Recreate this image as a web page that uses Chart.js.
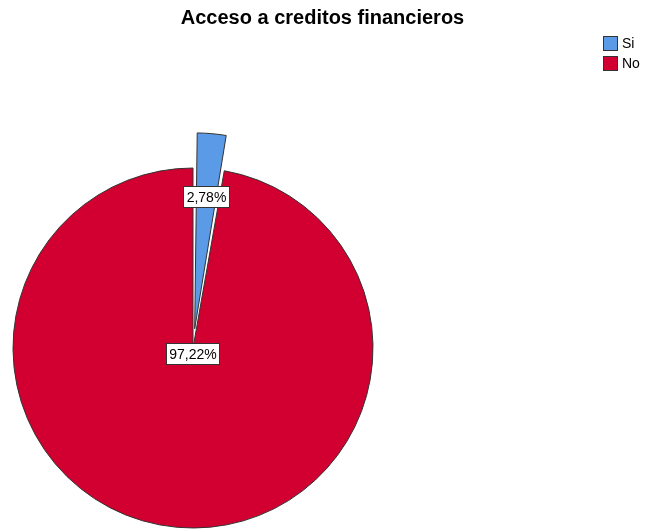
<!DOCTYPE html>
<html lang="es">
<head>
    <meta charset="UTF-8">
    <meta name="viewport" content="width=device-width, initial-scale=1.0">
    <title>Acceso a creditos financieros</title>
    <style>
        html, body { margin: 0; padding: 0; background: #fff; }
        #contenedor { position: relative; width: 645px; height: 529px; }
    </style>
</head>
<body>
    <div id="contenedor"><canvas id="grafico"></canvas></div>

    <script src="https://cdn.jsdelivr.net/npm/chart.js@4.4.0/dist/chart.umd.min.js"></script>
    <script>
        // Datos del gráfico
        const categorias = ['Si', 'No'];
        const porcentajes = [2.78, 97.22];
        const colores = ['#5a9ae6', '#d10030'];

        const fuente = '"Liberation Sans", Arial, sans-serif';

        // coma decimal como en el original
        function formato(v) {
            return v.toFixed(2).replace('.', ',') + '%';
        }

        // Espacio vacío a la derecha para que la torta quede a la izquierda
        const espacio = {
            id: 'espacio',
            beforeInit(chart, args, opts) {
                Chart.layouts.addBox(chart, {
                    position: 'right',
                    weight: 0,
                    fullSize: false,
                    options: {},
                    isHorizontal() { return false; },
                    update(maxWidth, maxHeight) {
                        this.width = opts.ancho;
                        this.height = maxHeight;
                    },
                    draw() {}
                });
            }
        };

        // Etiquetas con recuadro blanco sobre cada porción
        const etiquetas = {
            id: 'etiquetas',
            afterDatasetsDraw(chart, args, opts) {
                const ctx = chart.ctx;
                const meta = chart.getDatasetMeta(0);
                ctx.save();
                ctx.font = '14px ' + fuente;
                ctx.textAlign = 'center';
                ctx.textBaseline = 'middle';
                meta.data.forEach((arc, i) => {
                    const p = arc.getProps(['x', 'y', 'startAngle', 'endAngle', 'outerRadius'], true);
                    const medio = (p.startAngle + p.endAngle) / 2;
                    const d = opts.distancia[i] * p.outerRadius;
                    const x = p.x + Math.cos(medio) * d;
                    const y = p.y + Math.sin(medio) * d;
                    const txt = formato(chart.data.datasets[0].data[i]);
                    const w = Math.round(ctx.measureText(txt).width + 6);
                    const h = 21;
                    const bx = Math.round(x - w / 2) + 0.5;
                    const by = Math.round(y - h / 2) + 0.5;
                    ctx.fillStyle = '#fff';
                    ctx.fillRect(bx, by, w, h);
                    ctx.strokeStyle = '#333';
                    ctx.lineWidth = 1;
                    ctx.strokeRect(bx, by, w, h);
                    ctx.fillStyle = '#000';
                    ctx.fillText(txt, bx + w / 2, by + h / 2 + 1);
                });
                ctx.restore();
            }
        };

        // Leyenda arriba a la derecha
        const leyenda = {
            id: 'leyenda',
            afterDraw(chart, args, opts) {
                const ctx = chart.ctx;
                const ds = chart.data.datasets[0];
                ctx.save();
                ctx.font = '14px ' + fuente;
                ctx.textBaseline = 'middle';
                chart.data.labels.forEach((lab, i) => {
                    const y = opts.y + i * opts.paso;
                    ctx.fillStyle = ds.backgroundColor[i];
                    ctx.fillRect(opts.x + 0.5, y + 0.5, opts.caja, opts.caja);
                    ctx.strokeStyle = '#333';
                    ctx.lineWidth = 1;
                    ctx.strokeRect(opts.x + 0.5, y + 0.5, opts.caja, opts.caja);
                    ctx.fillStyle = '#000';
                    ctx.fillText(lab, opts.x + opts.caja + 5, y + opts.caja / 2 + 1);
                });
                ctx.restore();
            }
        };

        const ctx = document.getElementById('grafico');
        const grafico = new Chart(ctx, {
            type: 'pie',
            data: {
                labels: categorias,
                datasets: [{
                    data: porcentajes,
                    backgroundColor: colores,
                    borderColor: '#333',
                    borderWidth: 1,
                    offset: [77, 0],
                    radius: 180
                }]
            },
            options: {
                responsive: true,
                maintainAspectRatio: false,
                animation: false,
                layout: { padding: 0 },
                plugins: {
                    title: {
                        display: true,
                        text: 'Acceso a creditos financieros',
                        color: '#000',
                        font: { family: fuente, size: 20, weight: 'bold' },
                        padding: { top: 6, bottom: 137 },
                        fullSize: true
                    },
                    legend: { display: false },
                    tooltip: { enabled: false },
                    espacio: { ancho: 259 },
                    etiquetas: { distancia: [0.845, 0.03] },
                    leyenda: { x: 603, y: 36, paso: 20, caja: 14 }
                }
            },
            plugins: [espacio, etiquetas, leyenda]
        });
    </script>
</body>
</html>
